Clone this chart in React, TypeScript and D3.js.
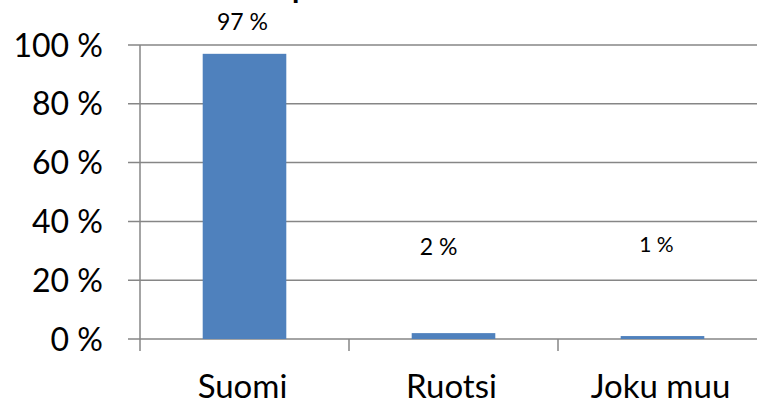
import React from "react";
import * as d3 from "d3";

const categories = ["Suomi", "Ruotsi", "Joku muu"];
const values = [97, 2, 1];
const valueLabels = ["97 %", "2 %", "1 %"];
const yTicks = [0, 20, 40, 60, 80, 100];

const W = 757;
const H = 404;
const FONT = "Lato, 'Open Sans', sans-serif";

export default function App() {
  const left = 140;
  const right = 767;
  const top = 45;
  const bottom = 339;

  const x = d3.scaleBand<string>().domain(categories).range([left, right]).paddingInner(0.6).paddingOuter(0.3);
  const xEdges = d3.scaleLinear().domain([0, categories.length]).range([left, right]);
  const y = d3.scaleLinear().domain([0, 100]).range([bottom, top]);

  // manual label placement as in the source chart
  const labelPos = [
    { dx: -2, yv: null as number | null, size: 23 },
    { dx: -15, yv: 28.5, size: 23 },
    { dx: -6, yv: 29.5, size: 21 },
  ];

  const grid = "#868686";

  return (
    <svg
      width={W}
      height={H}
      style={{ position: "fixed", left: 0, top: 0, background: "#fff" }}
      fontFamily={FONT}
    >
      <rect x={0} y={0} width={W} height={H} fill="#fff" />
      {/* cropped title fragment */}
      <text x={292} y={-2} fontSize={30} fontWeight="bold" fill="#000">p</text>

      {yTicks.map((t) => (
        <g key={t}>
          <line x1={left - 12} x2={right} y1={y(t)} y2={y(t)} stroke={grid} strokeWidth={1.5} />
          <text
            x={103}
            y={y(t)}
            dy="0.36em"
            textAnchor="end"
            fontSize={32}
            fill="#000"
          >
            {`${t} %`}
          </text>
        </g>
      ))}

      <line x1={left} x2={left} y1={top} y2={bottom} stroke={grid} strokeWidth={1.5} />
      {d3.range(categories.length + 1).map((i) => (
        <line
          key={i}
          x1={xEdges(i)}
          x2={xEdges(i)}
          y1={bottom}
          y2={bottom + 12}
          stroke={grid}
          strokeWidth={1.5}
        />
      ))}

      {categories.map((c, i) => {
        const bx = x(c)!;
        const bw = x.bandwidth();
        const cx = bx + bw / 2;
        const lp = labelPos[i];
        const ly = lp.yv === null ? y(values[i]) - 24 : y(lp.yv);
        return (
          <g key={c}>
            <rect x={bx} y={y(values[i])} width={bw} height={bottom - y(values[i])} fill="#4F81BD" />
            <text x={cx + lp.dx} y={ly} textAnchor="middle" fontSize={lp.size} fill="#000">
              {valueLabels[i]}
            </text>
            <text x={cx - 2} y={398} textAnchor="middle" fontSize={33} fill="#000">
              {c}
            </text>
          </g>
        );
      })}
    </svg>
  );
}
